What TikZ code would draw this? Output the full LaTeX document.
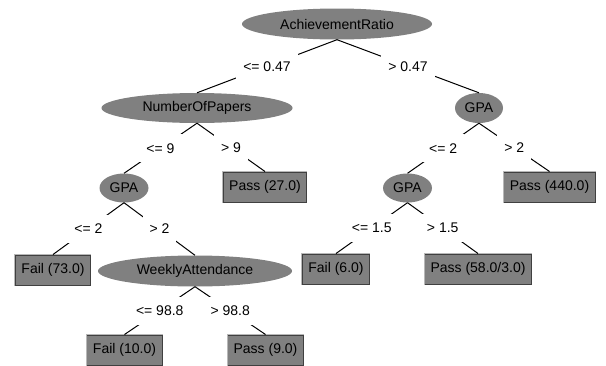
\documentclass[tikz,border=0pt]{standalone}
\usepackage{fontspec}
\setmainfont{Liberation Sans}
\usetikzlibrary{shapes.geometric}
\definecolor{wekagray}{HTML}{808080}
\definecolor{boxlight}{HTML}{B8B8B8}
\definecolor{boxdark}{HTML}{404040}
\tikzset{
  every node/.style={font=\fontsize{14}{16}\selectfont, text=black},
  attr/.style={ellipse, fill=wekagray, inner sep=0pt},
  leaf/.style={rectangle, fill=wekagray, draw=boxdark, line width=1pt, inner xsep=6pt, inner ysep=0pt, minimum height=30pt},
  lbl/.style={fill=white, inner xsep=7pt, inner ysep=0pt, minimum height=28pt},
  edge/.style={draw=black, line width=1pt}
}
\begin{document}
\begin{tikzpicture}[x=1pt, y=-1pt]
\useasboundingbox (0,0) rectangle (606,365);
% attribute nodes
\node[attr, minimum width=190pt, minimum height=31pt] (AR) at (337,24) {AchievementRatio};
\node[attr, minimum width=191pt, minimum height=30pt] (NP) at (197,108) {NumberOfPapers};
\node[attr, minimum width=48pt, minimum height=30pt] (G1) at (479,108) {GPA};
\node[attr, minimum width=49pt, minimum height=29pt] (G2) at (124,188) {GPA};
\node[attr, minimum width=49pt, minimum height=29pt] (G3) at (407.5,188) {GPA};
\node[attr, minimum width=194pt, minimum height=31pt] (WA) at (195,271) {WeeklyAttendance};
% leaves
\node[leaf] (P27) at (265,187) {Pass (27.0)};
\node[leaf] (P440) at (549.5,187) {Pass (440.0)};
\node[leaf] (F73) at (53,270) {Fail (73.0)};
\node[leaf] (F6) at (336,269) {Fail (6.0)};
\node[leaf] (P58) at (478,269) {Pass (58.0/3.0)};
\node[leaf] (F10) at (124.5,350) {Fail (10.0)};
\node[leaf] (P9) at (265.5,350) {Pass (9.0)};
% 3D highlight on leaves
\foreach \n in {P27,P440,F73,F6,P58,F10,P9}
  \draw[boxlight, line width=1pt] (\n.south west) -- (\n.north west) -- (\n.north east);
% edges
\path[edge] (AR.south) -- node[lbl] {<= 0.47} (NP.north);
\path[edge] (AR.south) -- node[lbl] {> 0.47} (G1.north);
\path[edge] (NP.south) -- node[lbl] {<= 9} (G2.north);
\path[edge] (NP.south) -- node[lbl] {> 9} (P27.north);
\path[edge] (G1.south) -- node[lbl] {<= 2} (G3.north);
\path[edge] (G1.south) -- node[lbl] {> 2} (P440.north);
\path[edge] (G2.south) -- node[lbl] {<= 2} (F73.north);
\path[edge] (G2.south) -- node[lbl] {> 2} (WA.north);
\path[edge] (G3.south) -- node[lbl] {<= 1.5} (F6.north);
\path[edge] (G3.south) -- node[lbl] {> 1.5} (P58.north);
\path[edge] (WA.south) -- node[lbl] {<= 98.8} (F10.north);
\path[edge] (WA.south) -- node[lbl] {> 98.8} (P9.north);
\end{tikzpicture}
\end{document}
